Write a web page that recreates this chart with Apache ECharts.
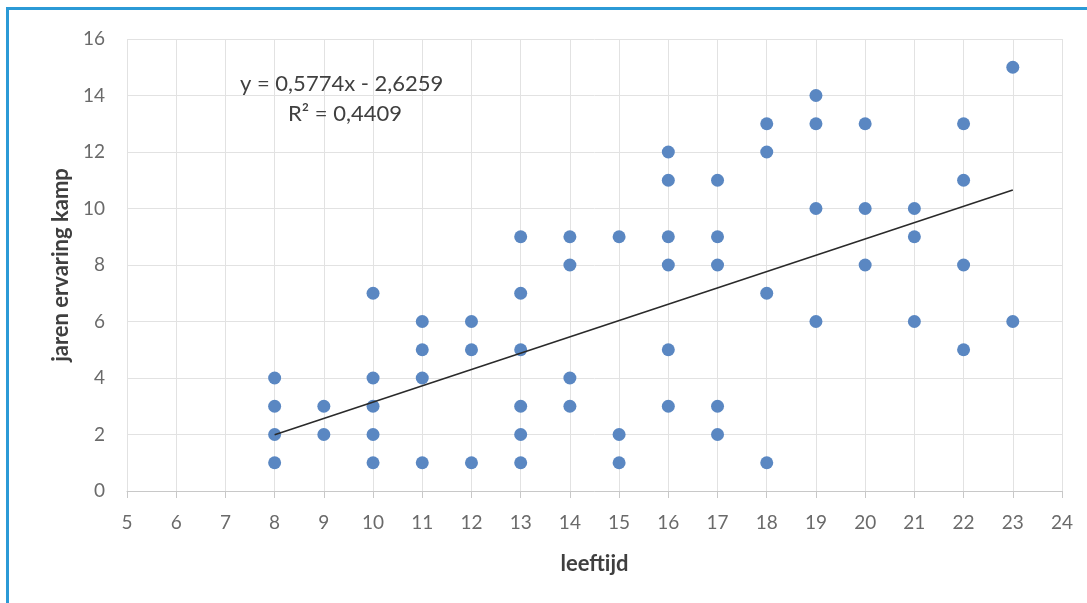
<!DOCTYPE html>
<html>
<head>
<meta charset="utf-8">
<script src="https://cdn.jsdelivr.net/npm/echarts@6/dist/echarts.min.js"></script>
<style>
html,body{margin:0;padding:0;background:#fff;}
#frame{position:absolute;left:0;top:0;width:1087px;height:603px;background:#fff;}
#border{position:absolute;left:6px;top:7px;width:1100px;height:620px;border-top:3px solid #2b9ad6;border-left:3px solid #2b9ad6;box-sizing:border-box;}
#chart{position:absolute;left:0;top:0;width:1087px;height:603px;}
</style>
</head>
<body>
<div id="frame"><div id="border"></div><div id="chart"></div></div>
<script>
// leeftijd (age) per point
const ages = [
  8,8,8,8,
  9,9,
  10,10,10,10,10,
  11,11,11,11,
  12,12,12,
  13,13,13,13,13,13,
  14,14,14,14,
  15,15,15,
  16,16,16,16,16,16,
  17,17,17,17,17,
  18,18,18,18,
  19,19,19,19,
  20,20,20,
  21,21,21,
  22,22,22,22,
  23,23
];
// jaren ervaring kamp per point
const years = [
  1,2,3,4,
  2,3,
  1,2,3,4,7,
  1,4,5,6,
  1,5,6,
  1,2,3,5,7,9,
  3,4,8,9,
  1,2,9,
  3,5,8,9,11,12,
  2,3,8,9,11,
  1,7,12,13,
  6,10,13,14,
  8,10,13,
  6,9,10,
  5,8,11,13,
  6,15
];
// Excel trendline coefficients (from the chart label)
const slope = 0.5774;
const intercept = -2.6259;
const trendX = [8, 23];
const equationText = "y = 0,5774x - 2,6259";
const r2Text = "R² = 0,4409";
const xTitle = "leeftijd";
const yTitle = "jaren ervaring kamp";

const points = ages.map((a, i) => [a, years[i]]);
const trend = trendX.map(x => [x, slope * x + intercept]);

const chart = echarts.init(document.getElementById('chart'), null, {renderer: 'canvas'});
const font = 'Lato, "Open Sans", sans-serif';
chart.setOption({
  backgroundColor: 'transparent',
  animation: false,
  grid: {left: 127, right: 25, top: 39, bottom: 112, containLabel: false},
  xAxis: {
    type: 'value', min: 5, max: 24, interval: 1,
    name: xTitle, nameLocation: 'middle', nameGap: 62,
    nameTextStyle: {fontFamily: font, fontSize: 22, fontWeight: 'bold', color: '#3f3f3f'},
    axisLine: {show: true, lineStyle: {color: '#c8c8c8', width: 1}},
    axisTick: {show: true, length: 7, lineStyle: {color: '#c8c8c8'}},
    axisLabel: {fontFamily: font, fontSize: 19, color: '#6a6a6a', margin: 22},
    splitLine: {show: true, lineStyle: {color: '#e2e2e2', width: 1}}
  },
  yAxis: {
    type: 'value', min: 0, max: 16, interval: 2,
    name: yTitle, nameLocation: 'middle', nameGap: 54, nameRotate: 90,
    nameTextStyle: {fontFamily: font, fontSize: 22, fontWeight: 'bold', color: '#3f3f3f'},
    axisLine: {show: false},
    axisTick: {show: false},
    axisLabel: {fontFamily: font, fontSize: 19, color: '#6a6a6a', margin: 22},
    splitLine: {show: true, lineStyle: {color: '#e2e2e2', width: 1}}
  },
  series: [
    {
      type: 'scatter', data: points, symbol: 'circle', symbolSize: 13,
      itemStyle: {color: '#5a87c2', opacity: 1}, z: 2
    },
    {
      type: 'line', data: trend, symbol: 'none', silent: true,
      lineStyle: {color: '#2a2a2a', width: 1.6}, z: 3
    }
  ],
  graphic: [
    {type: 'text', left: 240, top: 73, z: 100, style: {text: equationText, fontFamily: font, fontSize: 22, fill: '#404040'}},
    {type: 'text', left: 288, top: 103, z: 100, style: {text: r2Text, fontFamily: font, fontSize: 22, fill: '#404040'}}
  ]
});
</script>
</body>
</html>
